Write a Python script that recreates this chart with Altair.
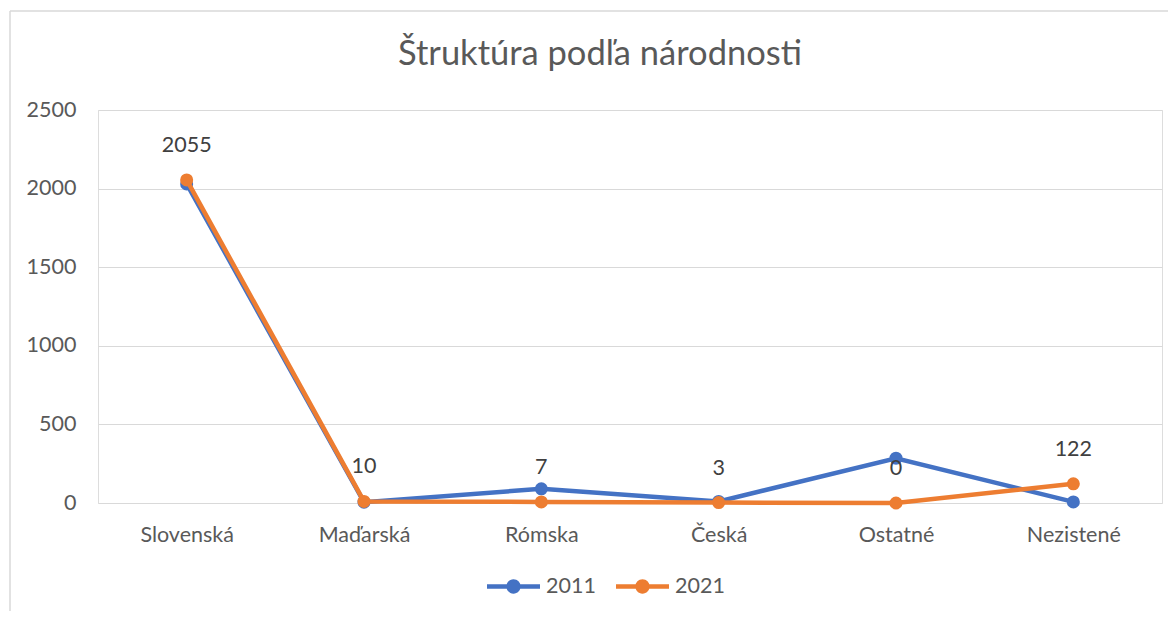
import altair as alt
import pandas as pd

categories = ["Slovenská", "Maďarská", "Rómska", "Česká", "Ostatné", "Nezistené"]
values_2011 = [2030, 5, 90, 10, 285, 7]
values_2021 = [2055, 10, 7, 3, 0, 122]
series_names = ["2011", "2021"]
colors = ["#4472C4", "#ED7D31"]
y_ticks = [0, 500, 1000, 1500, 2000, 2500]
title_text = "Štruktúra podľa národnosti"

rows = []
for i, c in enumerate(categories):
    rows.append({"kat": c, "rok": "2011", "pocet": values_2011[i]})
    rows.append({"kat": c, "rok": "2021", "pocet": values_2021[i]})
df = pd.DataFrame(rows)

FONT = "Lato"
GREY = "#595959"
FS = 21.5
PATH = ("M-1,-0.085L1,-0.085L1,0.085L-1,0.085Z "
        "M0.27,0A0.27,0.27 0 1,1 -0.27,0A0.27,0.27 0 1,1 0.27,0Z")

x_enc = alt.X("kat:N", sort=categories, title=None,
              axis=alt.Axis(labelAngle=0, ticks=False, domain=False, grid=False,
                            labelFontSize=FS, labelColor=GREY, labelFont=FONT,
                            labelPadding=21))
y_enc = alt.Y("pocet:Q", title=None,
              scale=alt.Scale(domain=[0, 2500], nice=False),
              axis=alt.Axis(values=y_ticks, format="d", ticks=False, domain=False,
                            gridColor="#d9d9d9", gridWidth=1,
                            labelFontSize=FS, labelColor=GREY, labelFont=FONT,
                            labelPadding=22))
color_enc = alt.Color("rok:N", sort=series_names,
                      scale=alt.Scale(domain=series_names, range=colors),
                      legend=alt.Legend(title=None, orient="none", legendX=389, legendY=450,
                                        direction="horizontal", columns=2,
                                        symbolType=PATH, symbolSize=2809,
                                        symbolStrokeWidth=0, symbolOpacity=1,
                                        labelFontSize=FS, labelColor=GREY, labelFont=FONT,
                                        labelOffset=6, columnPadding=20, padding=0))

base = alt.Chart(df)
layers = []
for s in series_names:
    sub = base.transform_filter(alt.datum.rok == s)
    layers.append(sub.mark_line(strokeWidth=4.5).encode(x=x_enc, y=y_enc, color=color_enc))
    layers.append(sub.mark_point(filled=True, size=170, opacity=1).encode(x=x_enc, y=y_enc, color=color_enc))

labels = base.transform_filter(alt.datum.rok == "2021").mark_text(
    dy=-34, fontSize=FS, font=FONT, color="#404040").encode(
    x=x_enc, y=y_enc, text="pocet:Q")

one_row = alt.Data(values=[{"a": 1}])
title_mark = alt.Chart(one_row).mark_text(
    fontSize=34.5, font=FONT, color=GREY, align="center", baseline="alphabetic").encode(
    x=alt.value(502), y=alt.value(-45), text=alt.value(title_text))
frame_left = alt.Chart(one_row).mark_rule(color="#d9d9d9", strokeWidth=1.5).encode(
    x=alt.value(-88), y=alt.value(-99), y2=alt.value(700))
frame_top = alt.Chart(one_row).mark_rule(color="#d9d9d9", strokeWidth=1.5).encode(
    x=alt.value(-88), x2=alt.value(1200), y=alt.value(-99))

chart = alt.layer(*layers, labels, title_mark, frame_left, frame_top).properties(
    width=1064, height=393,
    autosize=alt.AutoSizeParams(type="none"),
    padding={"left": 90, "top": 102, "right": 6, "bottom": 108},
).configure_view(stroke=None).configure(background="white")

chart.save("out.html", embed_options={"renderer": "svg", "actions": False})
